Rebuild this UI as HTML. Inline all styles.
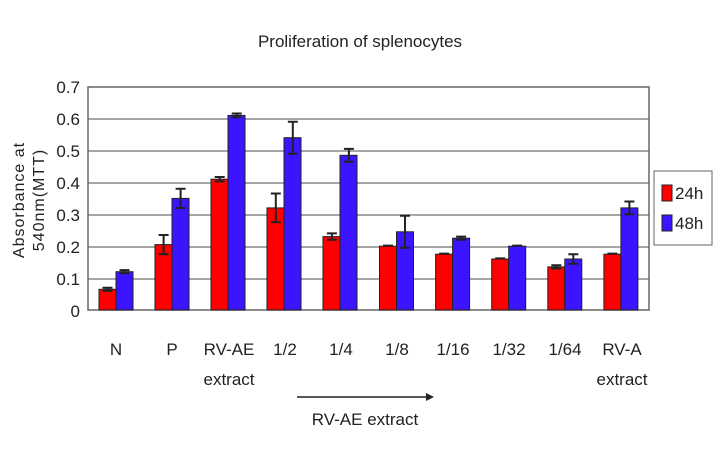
<!DOCTYPE html><html><head><style>body{margin:0;background:#fff}svg text{font-family:"Liberation Sans",sans-serif;fill:#222}</style></head><body>
<svg width="720" height="460" xmlns="http://www.w3.org/2000/svg">
<text x="360" y="47" font-size="17" text-anchor="middle">Proliferation of splenocytes</text>
<g font-size="16" text-anchor="middle" letter-spacing="1">
<text transform="translate(24,200) rotate(-90)">Absorbance at</text>
<text transform="translate(44,200) rotate(-90)">540nm(MTT)</text></g>
<g stroke="#888" stroke-width="1.5">
<line x1="88" x2="649" y1="119" y2="119"/><line x1="88" x2="649" y1="151" y2="151"/><line x1="88" x2="649" y1="183" y2="183"/><line x1="88" x2="649" y1="215" y2="215"/><line x1="88" x2="649" y1="247" y2="247"/><line x1="88" x2="649" y1="279" y2="279"/></g>
<rect x="88" y="87" width="561" height="223" fill="none" stroke="#666" stroke-width="1.5"/>
<g font-size="17" text-anchor="end">
<text x="80" y="93">0.7</text><text x="80" y="125">0.6</text><text x="80" y="157">0.5</text><text x="80" y="189">0.4</text><text x="80" y="221">0.3</text><text x="80" y="253">0.2</text><text x="80" y="285">0.1</text><text x="80" y="317">0</text></g>
<g stroke="#222" stroke-width="1">
<g fill="#f00">
<rect x="99" y="289.3" width="17" height="20.7"/>
<rect x="155" y="244.6" width="17" height="65.4"/>
<rect x="211" y="179.2" width="17" height="130.8"/>
<rect x="267" y="207.9" width="17" height="102.1"/>
<rect x="323" y="236.6" width="17" height="73.4"/>
<rect x="379.5" y="246.2" width="17" height="63.8"/>
<rect x="435.6" y="254.2" width="17" height="55.8"/>
<rect x="491.7" y="259" width="17" height="51"/>
<rect x="547.8" y="266.9" width="17" height="43.1"/>
<rect x="603.9" y="254.2" width="17" height="55.8"/>
</g>
<g fill="#3c14ff">
<rect x="116" y="271.7" width="17" height="38.3"/>
<rect x="172" y="198.4" width="17" height="111.6"/>
<rect x="228" y="115.4" width="17" height="194.6"/>
<rect x="284" y="137.7" width="17" height="172.3"/>
<rect x="340" y="155.3" width="17" height="154.7"/>
<rect x="396.5" y="231.8" width="17" height="78.2"/>
<rect x="452.6" y="238.2" width="17" height="71.8"/>
<rect x="508.7" y="246.2" width="17" height="63.8"/>
<rect x="564.8" y="259" width="17" height="51"/>
<rect x="620.9" y="207.9" width="17" height="102.1"/>
</g>
<path fill="none" stroke-width="2" d="
M102.5 287.7H112.5M107.5 287.7V290.9M102.5 290.9H112.5
M119.5 270.1H129.5M124.5 270.1V273.3M119.5 273.3H129.5
M158.6 235H168.6M163.6 235V254.2M158.6 254.2H168.6
M175.6 188.8H185.6M180.6 188.8V208M175.6 208H185.6
M214.7 177H224.7M219.7 177V181.4M214.7 181.4H224.7
M231.7 113.5H241.7M236.7 113.5V117.3M231.7 117.3H241.7
M270.8 193.5H280.8M275.8 193.5V222.3M270.8 222.3H280.8
M287.8 121.7H297.8M292.8 121.7V153.7M287.8 153.7H297.8
M326.9 233.4H336.9M331.9 233.4V239.8M326.9 239.8H336.9
M343.9 148.9H353.9M348.9 148.9V161.7M343.9 161.7H353.9
M383 245.6H393
M400 215.8H410M405 215.8V247.8M400 247.8H410
M439.1 253.6H449.1
M456.1 236.6H466.1M461.1 236.6V239.8M456.1 239.8H466.1
M495.2 258.4H505.2
M512.2 245.6H522.2
M551.3 265.3H561.3M556.3 265.3V268.5M551.3 268.5H561.3
M568.3 254.2H578.3M573.3 254.2V263.8M568.3 263.8H578.3
M607.4 253.6H617.4
M624.4 201.5H634.4M629.4 201.5V214.3M624.4 214.3H634.4"/>
</g>
<g font-size="17" text-anchor="middle">
<text x="116" y="355">N</text><text x="172" y="355">P</text><text x="229" y="355">RV-AE</text><text x="229" y="385">extract</text><text x="285" y="355">1/2</text><text x="341" y="355">1/4</text><text x="397" y="355">1/8</text><text x="453" y="355">1/16</text><text x="509" y="355">1/32</text><text x="565" y="355">1/64</text><text x="622" y="355">RV-A</text><text x="622" y="385">extract</text>
<text x="365" y="425">RV-AE extract</text></g>
<line x1="297" y1="397" x2="428" y2="397" stroke="#222" stroke-width="1.5"/><polygon points="434,397 426,393 426,401" fill="#222"/>
<rect x="654" y="171" width="58" height="74" fill="#fff" stroke="#666"/>
<rect x="662" y="185" width="10" height="16" fill="#f00" stroke="#222"/><rect x="662" y="215" width="10" height="16" fill="#3c14ff" stroke="#222"/>
<g font-size="17"><text x="675" y="199">24h</text><text x="675" y="229">48h</text></g>
</svg></body></html>
